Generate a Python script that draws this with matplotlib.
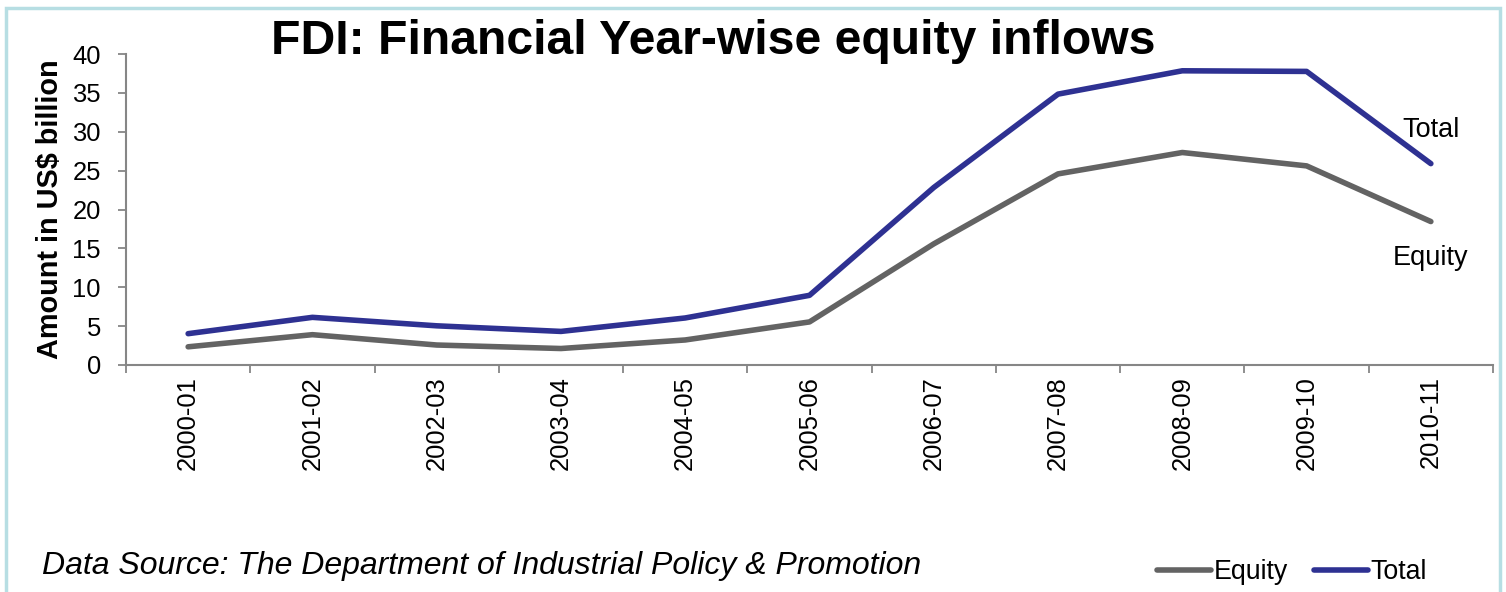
import matplotlib
matplotlib.use("Agg")
import matplotlib.pyplot as plt
from matplotlib.patches import Rectangle

plt.rcParams['font.family'] = ['Liberation Sans', 'DejaVu Sans']

years = ["2000-01", "2001-02", "2002-03", "2003-04", "2004-05", "2005-06",
         "2006-07", "2007-08", "2008-09", "2009-10", "2010-11"]
equity = [2.34, 3.90, 2.57, 2.12, 3.22, 5.54, 15.58, 24.58, 27.33, 25.61, 18.45]
total = [4.03, 6.13, 5.04, 4.32, 6.05, 8.96, 22.83, 34.84, 37.84, 37.76, 25.90]

grey = "#636363"
blue = "#2E3192"
axis_col = "#868686"

fig = plt.figure(figsize=(15.06, 5.92), dpi=100)
fig.patches.append(Rectangle((6 / 1506, -0.02), 1494 / 1506, 1 - 8 / 592 + 0.02,
                             transform=fig.transFigure, fill=False,
                             edgecolor="#B7DEE3", linewidth=2.5))

ax = fig.add_axes([126 / 1506, 1 - 365 / 592, 1367 / 1506, 311 / 592])
x = range(len(years))
ax.plot(x, equity, color=grey, lw=4, solid_capstyle="round", label="Equity")
ax.plot(x, total, color=blue, lw=4, solid_capstyle="round", label="Total")

ax.set_xlim(-0.5, len(years) - 0.5)
ax.set_ylim(0, 40)
ax.set_yticks(range(0, 41, 5))
ax.set_xticks(list(x))
ax.set_xticklabels(years, rotation=90, fontsize=18.4)
ax.set_xticks([i - 0.5 for i in range(len(years) + 1)], minor=True)
ax.tick_params(axis="x", which="major", length=0, pad=8)
ax.tick_params(axis="x", which="minor", length=6, width=1.3, color=axis_col)
ax.tick_params(axis="y", length=6, width=1.3, color=axis_col, labelsize=18.4, pad=12)

for side in ("top", "right"):
    ax.spines[side].set_visible(False)
for side in ("left", "bottom"):
    ax.spines[side].set_color(axis_col)
    ax.spines[side].set_linewidth(1.5)

ax.set_ylabel("Amount in US$ billion", fontsize=20.8, fontweight="bold", labelpad=6)

ax.text(10, 30.2, "Total", fontsize=19.5, ha="center", va="center")
ax.text(10, 13.7, "Equity", fontsize=19.5, ha="center", va="center")

fig.text(713 / 1506, 1 - 42 / 592, "FDI: Financial Year-wise equity inflows",
         fontsize=34.7, fontweight="bold", ha="center", va="center")
fig.text(42 / 1506, 1 - 566 / 592,
         "Data Source: The Department of Industrial Policy & Promotion",
         fontsize=23, style="italic", ha="left", va="center")

fig.legend(loc="center", bbox_to_anchor=(1292 / 1506, 1 - 572 / 592), ncol=2,
           frameon=False, fontsize=19.3, handlelength=2.0, handletextpad=0.1,
           columnspacing=1.0)

fig.savefig("out.png", dpi=100)
